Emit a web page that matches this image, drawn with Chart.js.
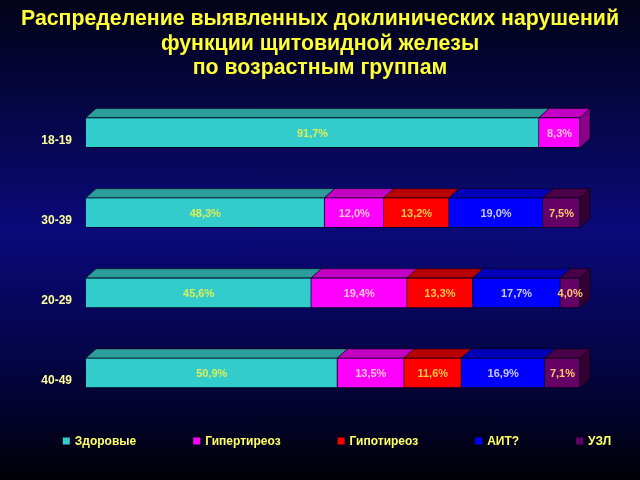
<!DOCTYPE html>
<html><head><meta charset="utf-8">
<script src="https://cdn.jsdelivr.net/npm/chart.js@4"></script>
<style>
html,body{margin:0;padding:0;background:#000;}
#wrap{width:640px;height:480px;position:relative;
background:linear-gradient(to bottom,#030318 0%,#050540 20%,#0a0a7a 48%,#05054c 72%,#000008 100%);}
canvas{display:block;}
</style></head><body>
<div id="wrap"><canvas id="c" width="640" height="480"></canvas></div>
<script>
const categories = ['18-19','30-39','20-29','40-49'];
const seriesNames = ['Здоровые','Гипертиреоз','Гипотиреоз','АИТ?','УЗЛ'];
const healthy = [91.7, 48.3, 45.6, 50.9];
const hyper   = [8.3, 12.0, 19.4, 13.5];
const hypo    = [null, 13.2, 13.3, 11.6];
const ait     = [null, 19.0, 17.7, 16.9];
const uzl     = [null, 7.5, 4.0, 7.1];
const titleLines = ['Распределение выявленных доклинических нарушений','функции щитовидной железы','по возрастным группам'];

const frontColors = ['#33cccc','#ff00ff','#ff0000','#0000ff','#660066'];
const topColors   = ['#2b9e9c','#c400c4','#b80000','#0000b8','#4a0048'];
const sideColors  = ['#1f7473','#8a008a','#800000','#00007e','#330033'];
const labelColors = ['#dcee55','#ffc0d8','#ffc848','#c8c8ff','#ffcc66'];
const FONT = 'Liberation Sans, Arial, sans-serif';
const DX = 10, DY = 9;

const seriesValues = [healthy, hyper, hypo, ait, uzl];

const threeD = {
  id:'threeD',
  afterDatasetsDraw(chart){
    const ctx = chart.ctx;
    ctx.save();
    categories.forEach((c,i)=>{
      let last = -1;
      seriesValues.forEach((vals,d)=>{
        if (vals[i] == null) return;
        const el = chart.getDatasetMeta(d).data[i];
        const p = el.getProps(['x','y','base','height'], true);
        const x0 = Math.min(p.x,p.base), x1 = Math.max(p.x,p.base);
        const top = p.y - p.height/2;
        ctx.beginPath();
        ctx.moveTo(x0, top); ctx.lineTo(x1, top);
        ctx.lineTo(x1+DX, top-DY); ctx.lineTo(x0+DX, top-DY); ctx.closePath();
        ctx.fillStyle = topColors[d]; ctx.fill();
        ctx.strokeStyle = 'rgba(0,0,0,0.5)'; ctx.lineWidth = 1; ctx.stroke();
        last = d;
      });
      if (last >= 0){
        const el = chart.getDatasetMeta(last).data[i];
        const p = el.getProps(['x','y','base','height'], true);
        const x1 = Math.max(p.x,p.base);
        const top = p.y - p.height/2, bot = p.y + p.height/2;
        ctx.beginPath();
        ctx.moveTo(x1, top); ctx.lineTo(x1+DX, top-DY);
        ctx.lineTo(x1+DX, bot-DY); ctx.lineTo(x1, bot); ctx.closePath();
        ctx.fillStyle = sideColors[last]; ctx.fill();
        ctx.strokeStyle = 'rgba(0,0,0,0.5)'; ctx.stroke();
      }
    });
    ctx.restore();
  }
};

const valueLabels = {
  id:'valueLabels',
  afterDatasetsDraw(chart){
    const ctx = chart.ctx;
    ctx.save();
    ctx.font = 'bold 11px ' + FONT;
    ctx.textAlign = 'center'; ctx.textBaseline = 'middle';
    seriesValues.forEach((vals,d)=>{
      vals.forEach((v,i)=>{
        if (v == null) return;
        const p = chart.getDatasetMeta(d).data[i].getProps(['x','y','base'], true);
        ctx.fillStyle = labelColors[d];
        ctx.fillText(v.toFixed(1).replace('.', ',') + '%', (p.x+p.base)/2, p.y+1);
      });
    });
    ctx.restore();
  }
};

const bottomLegend = {
  id:'bottomLegend',
  afterDraw(chart){
    const ctx = chart.ctx;
    ctx.save();
    ctx.font = 'bold 12px ' + FONT;
    ctx.textBaseline = 'middle';
    const box = 7, gapText = 5, gap = 57;
    const widths = seriesNames.map(n => box + gapText + ctx.measureText(n).width);
    const total = widths.reduce((a,b)=>a+b,0) + gap*(seriesNames.length-1);
    let x = 337 - total/2;
    const y = 441;
    seriesNames.forEach((n,d)=>{
      ctx.fillStyle = frontColors[d];
      ctx.fillRect(x, y-box/2, box, box);
      ctx.fillStyle = '#ffff66';
      ctx.fillText(n, x+box+gapText, y+1);
      x += widths[d] + gap;
    });
    ctx.restore();
  }
};

new Chart(document.getElementById('c'), {
  type:'bar',
  data:{
    labels: categories,
    datasets: seriesNames.map((n,d)=>({
      label:n, data: seriesValues[d], backgroundColor: frontColors[d],
      borderColor:'rgba(0,0,0,0.6)', borderWidth:1, barThickness:30
    }))
  },
  options:{
    indexAxis:'y', responsive:false, animation:false,
    layout:{padding:{left:0,right:0,top:0,bottom:67}},
    scales:{
      x:{stacked:true, min:0, max:100, display:false},
      y:{stacked:true, grid:{display:false}, border:{display:false},
         ticks:{color:'#ffff99', font:{family:FONT, weight:'bold', size:12}, padding:6, labelOffset:8},
         afterFit:(s)=>{ s.width = 86; }},
      yRight:{type:'category', labels:categories, position:'right',
         grid:{display:false}, border:{display:false}, ticks:{display:false},
         afterFit:(s)=>{ s.width = 60; }}
    },
    plugins:{
      legend:{display:false}, tooltip:{enabled:false},
      title:{display:true, text:titleLines, color:'#ffff33',
        font:{family:FONT, size:21.3, weight:'bold', lineHeight:1.15},
        padding:{top:7, bottom:12}}
    }
  },
  plugins:[threeD, valueLabels, bottomLegend]
});
</script>
</body></html>
